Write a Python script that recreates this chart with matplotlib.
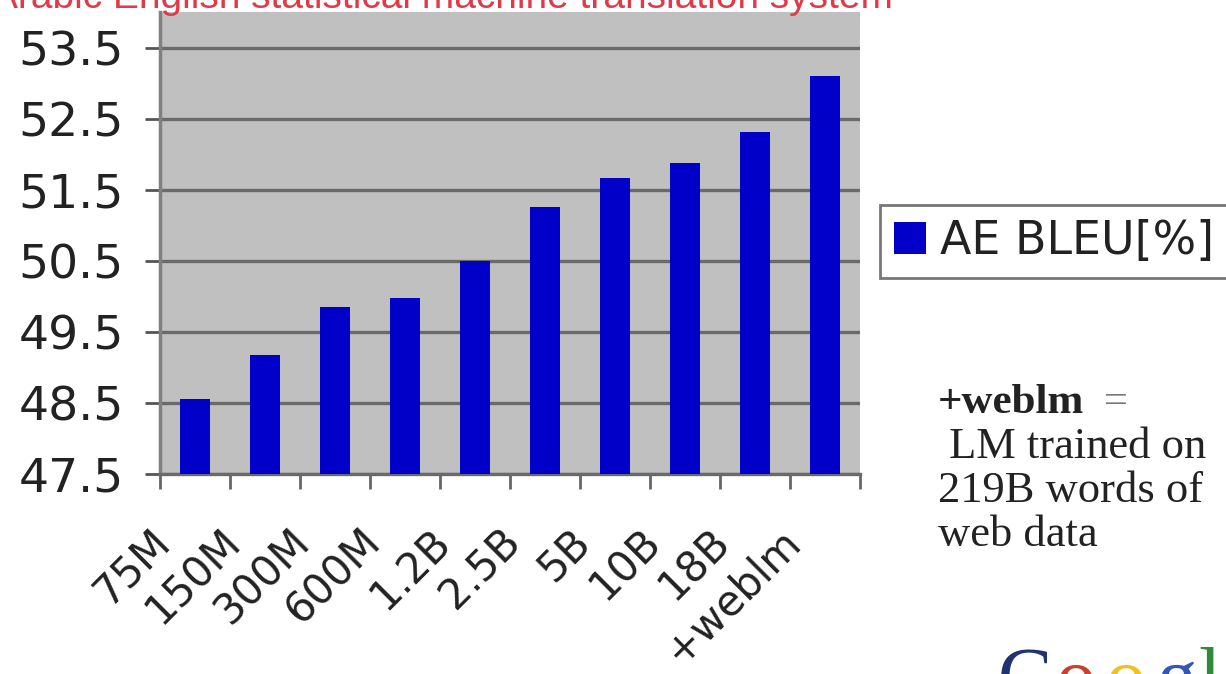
import matplotlib.pyplot as plt
import matplotlib.transforms as mtransforms
import numpy as np

# corpus sizes used to train the language model
sizes = ["75M", "150M", "300M", "600M", "1.2B", "2.5B", "5B", "10B", "18B", "+weblm"]
bleu = [48.56, 49.17, 49.85, 49.97, 50.50, 51.25, 51.66, 51.87, 52.31, 53.10]
yticks = [47.5, 48.5, 49.5, 50.5, 51.5, 52.5, 53.5]

title = "Arabic English statistical machine translation system"
note_lines = [" LM trained on", "219B words of", "web data"]
logo_letters = ["G", "o", "o", "g", "l", "e"]
logo_colors = ["#1f3370", "#c8402e", "#f0c020", "#3556b8", "#2f8a3a", "#c8402e"]

W, H = 1226, 674
fig = plt.figure(figsize=(W / 100, H / 100), dpi=100)
fig.patch.set_facecolor("white")


def fx(px):
    return px / W


def fy(py):
    return 1 - py / H


ax = fig.add_axes([fx(160), fy(474), fx(860) - fx(160), fy(12) - fy(474)])
ax.set_facecolor("#c0c0c0")

x = np.arange(len(sizes))
ax.bar(x, np.array(bleu) - 47.5, bottom=47.5, width=0.44, color="#0000c8",
       label="AE BLEU[%]", zorder=3)

ax.set_xlim(-0.5, len(sizes) - 0.5)
ax.set_ylim(47.5, 54.0)

ax.set_yticks(yticks)
ax.set_yticklabels([f"{v:.1f}" for v in yticks], fontsize=34, color="#222222")
ax.yaxis.grid(True, color="#6a6a6a", linewidth=2.4, zorder=1)
ax.tick_params(axis="y", length=11, width=2, color="#555555", pad=15)

# labels sit under each bar, tick marks go between categories
ax.set_xticks(x)
ax.set_xticklabels(sizes, rotation=45, ha="right", rotation_mode="anchor",
                   fontsize=30, color="#222222")
ax.tick_params(axis="x", which="major", length=0, pad=22)
shift = mtransforms.ScaledTranslation(-0.46, -0.16, fig.dpi_scale_trans)
for lab in ax.get_xticklabels():
    lab.set_transform(lab.get_transform() + shift)
ax.set_xticks(np.arange(len(sizes) + 1) - 0.5, minor=True)
ax.tick_params(axis="x", which="minor", length=11, width=2, color="#666666")

for side in ["top", "right"]:
    ax.spines[side].set_visible(False)
ax.spines["left"].set_color("#808080")
ax.spines["left"].set_linewidth(2.5)
ax.spines["bottom"].set_color("#6a6a6a")
ax.spines["bottom"].set_linewidth(2.4)

leg = fig.legend(loc="upper left", bbox_to_anchor=(fx(880), fy(205)),
                 fontsize=33, frameon=True, fancybox=False, handlelength=0.7,
                 handleheight=0.7, handletextpad=0.3, borderpad=0.3,
                 borderaxespad=0)
leg.get_frame().set_edgecolor("#555555")
leg.get_frame().set_linewidth(2)
for t in leg.get_texts():
    t.set_color("#222222")

# red heading, mostly above the top edge
fig.text(fx(-8), fy(8), title, fontsize=28, color="#e03a48",
         family="Liberation Sans", va="baseline", ha="left")

# note about the +weblm bar
serif = "Liberation Serif"
fig.text(fx(938), fy(413), "+weblm", fontsize=31, weight="bold", family=serif,
         color="#222222", va="baseline")
fig.text(fx(1093), fy(413), " =", fontsize=31, family=serif, color="#777777",
         va="baseline")
for i, line in enumerate(note_lines):
    fig.text(fx(938), fy(458 + 44 * i), line, fontsize=32, family=serif,
             color="#222222", va="baseline")

# logo letters running off the bottom edge
lx = 998
for ch, col in zip(logo_letters, logo_colors):
    fig.text(fx(lx), fy(703), ch, fontsize=58, family=serif, color=col,
             va="baseline", ha="left")
    lx += {"G": 58, "o": 50, "g": 42, "l": 25, "e": 40}[ch]

fig.savefig("out.png", dpi=100)
